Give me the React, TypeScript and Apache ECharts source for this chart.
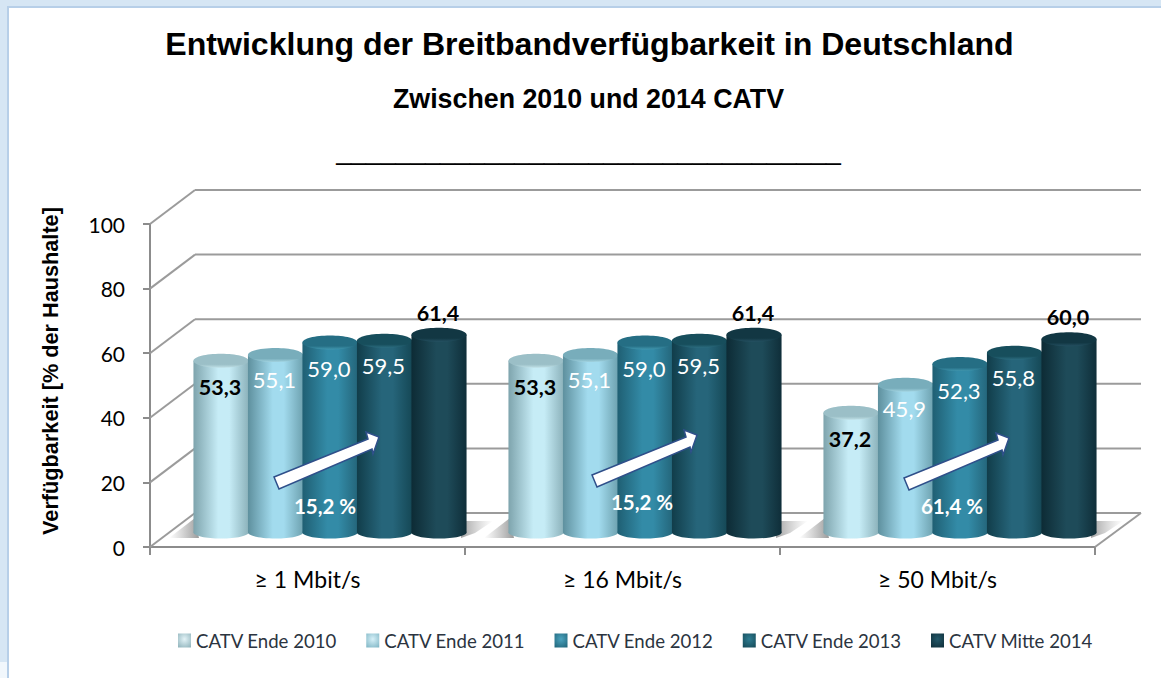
import React, { useEffect, useRef } from "react";
import * as echarts from "echarts";

const categories = ["≥ 1 Mbit/s", "≥ 16 Mbit/s", "≥ 50 Mbit/s"];
const yTicks = [0, 20, 40, 60, 80, 100];
const seriesNames = ["CATV Ende 2010", "CATV Ende 2011", "CATV Ende 2012", "CATV Ende 2013", "CATV Mitte 2014"];
const ende2010 = [53.3, 53.3, 37.2];
const ende2011 = [55.1, 55.1, 45.9];
const ende2012 = [59.0, 59.0, 52.3];
const ende2013 = [59.5, 59.5, 55.8];
const mitte2014 = [61.4, 61.4, 60.0];
const growthLabels = ["15,2 %", "15,2 %", "61,4 %"];
const titleText = "Entwicklung der Breitbandverfügbarkeit in Deutschland";
const subtitleText = "Zwischen 2010 und 2014 CATV";
const ruleText = "_".repeat(34);
const yAxisName = "Verfügbarkeit [% der Haushalte]";

const allValues = [ende2010, ende2011, ende2012, ende2013, mitte2014];
const sideStops = [
  ["#7ea4ad", "#c6ecf6", "#8cb2bb"],
  ["#5e909e", "#a2dbee", "#6ea2b0"],
  ["#1f5f73", "#338ba7", "#24667b"],
  ["#113d4a", "#26657a", "#154856"],
  ["#0d2b35", "#1e4b59", "#0f2e39"],
];
const capStops = [
  ["#9bbfc7", "#c0e0e6"],
  ["#78adbb", "#a2d3e0"],
  ["#256e84", "#4096ae"],
  ["#174e5c", "#2c6d80"],
  ["#123743", "#245061"],
];
const legendCenters = ["#e3f3f7", "#d6f0f8", "#4ba3be", "#2f7d92", "#24596a"];
const legendEdges = ["#8fb3bb", "#7fb6c5", "#20657a", "#164a58", "#0f2f3a"];
const labelColors = ["#000000", "#ffffff", "#ffffff", "#ffffff", "#000000"];
const labelOffsets = [26, 24, 26, 25, -22];
const LABEL_FONT = "Lato, sans-serif";

const DX = 45;
const DY = 34;
const sideGrad = (s: string[]) => ({
  type: "linear", x: 0, y: 0, x2: 1, y2: 0,
  colorStops: [
    { offset: 0, color: s[0] },
    { offset: 0.45, color: s[1] },
    { offset: 0.65, color: s[1] },
    { offset: 1, color: s[2] },
  ],
});
const capGrad = (s: string[]) => ({
  type: "linear", x: 0, y: 0, x2: 0, y2: 1,
  colorStops: [
    { offset: 0, color: s[0] },
    { offset: 0.75, color: s[0] },
    { offset: 1, color: s[1] },
  ],
});

const wallRender = (_p: any, api: any) => {
  const v = api.value(0);
  const [x0, y] = api.coord([0, v]);
  const band = api.size([1, 0])[0];
  const left = x0 - band / 2;
  const right = left + band * 3;
  const stroke = { stroke: "#9b9b9b", lineWidth: 2 };
  const children: any[] = [
    { type: "line", shape: { x1: left, y1: y, x2: left + DX, y2: y - DY }, style: stroke },
    { type: "line", shape: { x1: left + DX, y1: y - DY, x2: right + 46, y2: y - DY }, style: stroke },
  ];
  if (v === 0) {
    children.push({ type: "line", shape: { x1: right, y1: y, x2: right + 46, y2: y - DY }, style: stroke });
  }
  return { type: "group", children };
};

const shadowRender = (_p: any, api: any) => {
  const i = api.value(0);
  const [cx, y] = api.coord([i, 0]);
  const band = api.size([1, 0])[0];
  const c = cx + 22.5;
  const l = c - band * 0.435;
  const r = c + band * 0.435;
  const h = (c0: string, c1: string) => ({
    type: "linear", x: 0, y: 0, x2: 1, y2: 0,
    colorStops: [{ offset: 0, color: c0 }, { offset: 1, color: c1 }],
  });
  return {
    type: "group",
    children: [
      {
        type: "polygon",
        shape: { points: [[l - 24, y - 9], [l + 2, y - 29], [l + 6, y - 9]] },
        style: { fill: h("rgba(170,170,170,0)", "#9a9a9a") },
      },
      {
        type: "polygon",
        shape: { points: [[r - 6, y - 26], [r + 26, y - 26], [r + 8, y - 14], [r - 6, y - 9]] },
        style: { fill: h("#a2a2a2", "rgba(190,190,190,0)") },
      },
    ],
  };
};

const cylinderRender = (s: number) => (_p: any, api: any) => {
  const i = api.value(0);
  const v = api.value(1);
  const [cx0, yBase0] = api.coord([i, 0]);
  const [, yTop0] = api.coord([i, v]);
  const band = api.size([1, 0])[0];
  const w = band * 0.175;
  const pitch = band * 0.173;
  const cx = cx0 + 22.5 + (s - 2) * pitch;
  const yBase = yBase0 - 14.5;
  const yTop = yTop0 - 14;
  const rx = w / 2;
  const grad = sideGrad(sideStops[s]);
  const lo = labelOffsets[s];
  const bold = s === 0 || s === 4;
  return {
    type: "group",
    children: [
      { type: "ellipse", shape: { cx, cy: yBase, rx, ry: 6 }, style: { fill: grad } },
      { type: "rect", shape: { x: cx - rx, y: yTop, width: w, height: yBase - yTop }, style: { fill: grad } },
      { type: "ellipse", shape: { cx, cy: yTop, rx, ry: 7 }, style: { fill: capGrad(capStops[s]) } },
      {
        type: "text",
        z2: 10,
        style: {
          x: cx - 1,
          y: yTop + lo,
          text: v.toFixed(1).replace(".", ","),
          fill: labelColors[s],
          font: `${bold ? "bold" : "normal"} ${bold ? 21.5 : 22}px ${LABEL_FONT}`,
          align: "center",
          verticalAlign: "middle",
        },
      },
    ],
  };
};

const arrowShape = [[0, 0], [94, -38], [92, -45], [105, -40], [99, -23], [98, -28], [5, 12]];
const arrowAt = (x: number, y: number) => ({
  type: "polygon",
  z: 50,
  shape: { points: arrowShape.map(([a, b]) => [a + x, b + y]) },
  style: { fill: "#ffffff", stroke: "#2f4f8a", lineWidth: 1.5 },
});
const pctAt = (x: number, y: number, text: string) => ({
  type: "text",
  z: 50,
  style: { x, y, text, fill: "#ffffff", font: `bold 20.5px ${LABEL_FONT}`, align: "center", verticalAlign: "middle" },
});

export default function App() {
  const ref = useRef<HTMLDivElement>(null);
  useEffect(() => {
    document.body.style.margin = "0";
    const chart = echarts.init(ref.current!, undefined, { renderer: "svg" });
    chart.setOption({
      animation: false,
      backgroundColor: "#ffffff",
      title: [
        {
          text: titleText, left: 584.5, top: 23, textAlign: "center",
          textStyle: { fontFamily: "Liberation Sans", fontWeight: "bold", fontSize: 32.1, color: "#000000" },
        },
        {
          text: subtitleText, left: 583.5, top: 80, textAlign: "center",
          textStyle: { fontFamily: "Liberation Sans", fontWeight: "bold", fontSize: 26.8, color: "#000000" },
        },
        {
          text: ruleText, left: 583.5, top: 132, textAlign: "center",
          textStyle: { fontFamily: "Liberation Sans", fontWeight: "normal", fontSize: 26.7, color: "#000000" },
        },
      ],
      grid: { left: 150, right: 66, top: 224, bottom: 131 },
      legend: {
        left: 173, top: 626, itemGap: 29.25, itemWidth: 13, itemHeight: 14, icon: "rect",
        data: seriesNames.map((name, i) => ({
          name,
          itemStyle: {
            color: {
              type: "radial", x: 0.5, y: 0.4, r: 0.75,
              colorStops: [{ offset: 0, color: legendCenters[i] }, { offset: 1, color: legendEdges[i] }],
            },
          },
        })),
        textStyle: { fontFamily: LABEL_FONT, fontSize: 18.6, color: "#2b3440" },
      },
      xAxis: {
        type: "category",
        data: categories,
        axisLine: { lineStyle: { color: "#8c8c8c", width: 2 } },
        axisTick: { show: true, length: 8, lineStyle: { color: "#8c8c8c", width: 2 } },
        axisLabel: { fontFamily: LABEL_FONT, fontSize: 23, color: "#000000", margin: 20 },
        splitLine: { show: false },
      },
      yAxis: {
        type: "value",
        min: 0,
        max: 100,
        interval: 20,
        name: yAxisName,
        nameLocation: "middle",
        nameGap: 89,
        nameRotate: 90,
        nameTextStyle: {
          fontFamily: "Liberation Sans", fontWeight: "bold", fontSize: 21.7, color: "#000000",
          padding: [0, 0, 0, 29],
        },
        axisLine: { show: true, lineStyle: { color: "#8c8c8c", width: 2 } },
        axisTick: { show: true, length: 7, lineStyle: { color: "#8c8c8c", width: 2 } },
        axisLabel: { fontFamily: LABEL_FONT, fontSize: 21, color: "#000000", margin: 25 },
        splitLine: { show: false },
      },
      graphic: [
        { type: "rect", z: 0, shape: { x: 0, y: 0, width: 1161, height: 7 }, style: { fill: "#d6e6f4" } },
        { type: "rect", z: 0, shape: { x: 0, y: 0, width: 7, height: 662 }, style: { fill: "#d6e6f4" } },
        { type: "rect", z: 0, shape: { x: 0, y: 662, width: 7, height: 16 }, style: { fill: "#f1f7fc" } },
        { type: "rect", z: 0, shape: { x: 7, y: 6, width: 1154, height: 2 }, style: { fill: "#b7cfe8" } },
        { type: "rect", z: 0, shape: { x: 7, y: 6, width: 2, height: 672 }, style: { fill: "#b7cfe8" } },
        arrowAt(274, 477),
        arrowAt(592, 475),
        arrowAt(904, 478),
        pctAt(325, 506, growthLabels[0]),
        pctAt(642, 502, growthLabels[1]),
        pctAt(952, 506, growthLabels[2]),
      ],
      series: [
        {
          type: "custom", name: "Wände", z: 1, silent: true, clip: false,
          data: yTicks.map((t) => [t]),
          encode: { y: 0 },
          renderItem: wallRender,
        },
        {
          type: "custom", name: "Schatten", z: 1, silent: true, clip: false,
          data: categories.map((_, i) => [i]),
          encode: { x: 0 },
          renderItem: shadowRender,
        },
        ...seriesNames.map((name, s) => ({
          type: "custom",
          name,
          z: 2 + s,
          clip: false,
          itemStyle: { color: legendCenters[s] },
          data: allValues[s].map((v, i) => [i, v]),
          encode: { x: 0, y: 1 },
          renderItem: cylinderRender(s),
        })),
      ],
    });
    return () => chart.dispose();
  }, []);
  return <div ref={ref} style={{ width: 1161, height: 678 }} />;
}
